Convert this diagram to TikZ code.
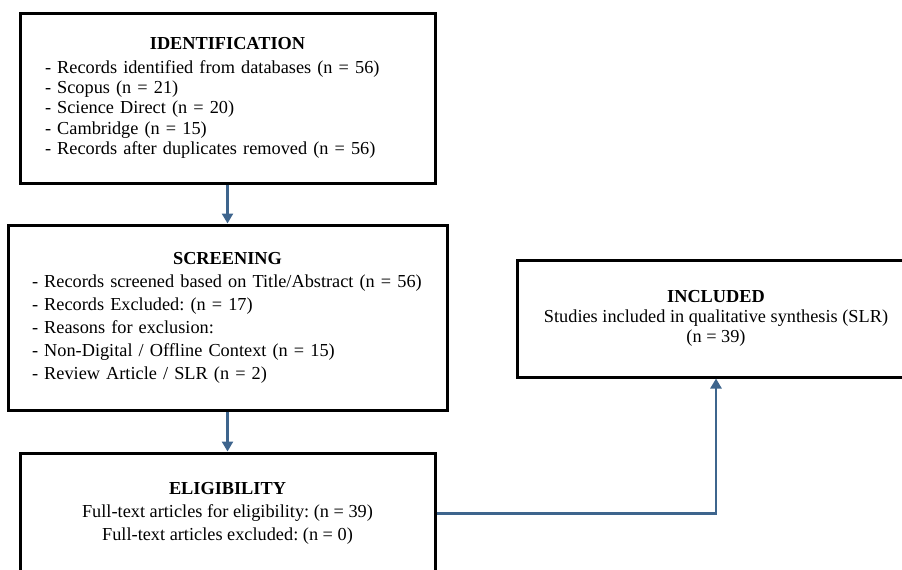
\documentclass[tikz,border=0pt]{standalone}
\usepackage{fontspec}
\setmainfont{Liberation Serif}
\usetikzlibrary{arrows.meta}
\frenchspacing

\definecolor{flowBlue}{RGB}{62,101,141}
\def \boxRule {3pt}
\def \arrowRule {2.6pt}

\begin{document}
\begin{tikzpicture}[x=1pt, y=-1pt,
      stage/.style={draw, line width=\boxRule, inner ysep=0pt, align=left},
      flow/.style={draw=flowBlue, line width=\arrowRule, -{Triangle[width=11pt,length=10pt]}}]
      \clip (0,0) rectangle (902,570);
      % the four stages
      \node[stage, minimum width=415, minimum height=170, text width=365, inner xsep=25,
            font=\fontsize{18.3}{20.3}\selectfont] (ident) at (227.5,98)
            {\makebox[\hsize]{\textbf{IDENTIFICATION}}\\[3pt]
             - Records identified from databases (n = 56)\\
             - Scopus (n = 21)\\
             - Science Direct (n = 20)\\
             - Cambridge (n = 15)\\
             - Records after duplicates removed (n = 56)};
      \node[stage, minimum width=439, minimum height=185, text width=391, inner xsep=24,
            font=\fontsize{18.3}{23}\selectfont] (screen) at (227.5,317.5)
            {\makebox[\hsize]{\textbf{SCREENING}}\\
             - Records screened based on Title/Abstract (n = 56)\\
             - Records Excluded: (n = 17)\\
             - Reasons for exclusion:\\
             - Non-Digital / Offline Context (n = 15)\\
             - Review Article / SLR (n = 2)};
      \node[stage, align=center, minimum width=415, minimum height=121,
            font=\fontsize{18.3}{23}\selectfont] (elig) at (227.5,513.5)
            {\textbf{ELIGIBILITY}\\
             Full-text articles for eligibility: (n = 39)\\
             Full-text articles excluded: (n = 0)};
      \node[stage, align=center, minimum width=398, minimum height=117,
            font=\fontsize{18.3}{20}\selectfont] (incl) at (716,318.5)
            {\textbf{INCLUDED}\\
             Studies included in qualitative synthesis (SLR)\\
             (n = 39)};
      % connectors
      \draw[flow] (ident.south) -- (screen.north);
      \draw[flow] (screen.south) -- (elig.north);
      \draw[flow] (elig.east) -| (incl.south);
   \end{tikzpicture}
\end{document}
